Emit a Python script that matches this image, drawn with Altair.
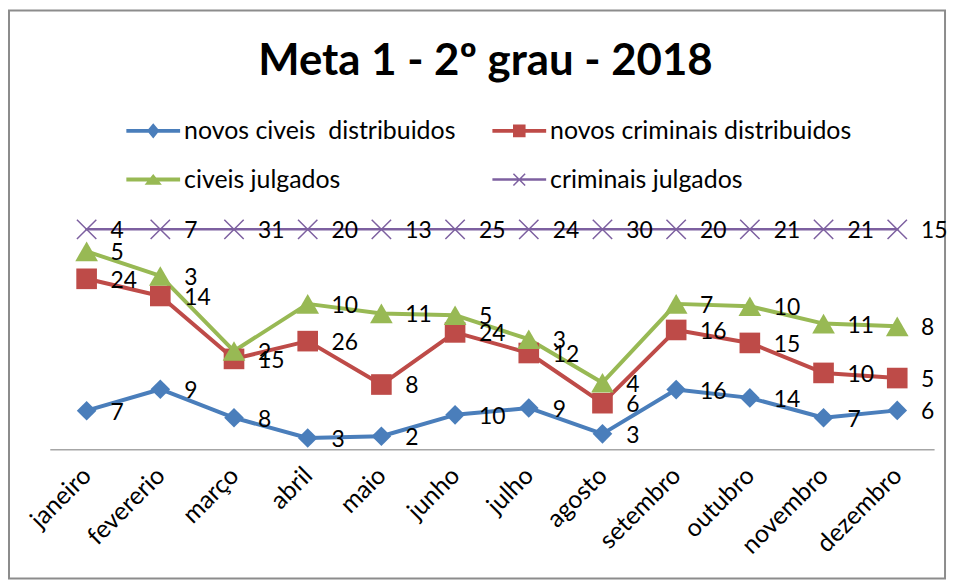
import altair as alt
import pandas as pd

meses = ["janeiro", "fevererio", "março", "abril", "maio", "junho", "julho",
         "agosto", "setembro", "outubro", "novembro", "dezembro"]
series = ["novos civeis\u00a0 distribuidos", "novos criminais distribuidos",
          "civeis julgados", "criminais julgados"]
novos_civeis = [7, 9, 8, 3, 2, 10, 9, 3, 16, 14, 7, 6]
novos_criminais = [24, 14, 15, 26, 8, 24, 12, 6, 16, 15, 10, 5]
civeis_julgados = [5, 3, 2, 10, 11, 5, 3, 4, 7, 10, 11, 8]
criminais_julgados = [4, 7, 31, 20, 13, 25, 24, 30, 20, 21, 21, 15]
cores = ["#4A7EBB", "#BE4B48", "#98B954", "#7D60A0"]
larguras = [4, 4, 4, 2.5]
titulo = ["Meta 1 - 2º grau - 2018"]

valores = [novos_civeis, novos_criminais, civeis_julgados, criminais_julgados]
rows = []
for si, (s, vals) in enumerate(zip(series, valores)):
    for mi, (m, v) in enumerate(zip(meses, vals)):
        rows.append({"mes": m, "idx": mi, "serie": s, "ordem": si, "valor": v})
df = pd.DataFrame(rows)

FONT = "Lato"

base = alt.Chart(df).transform_stack(
    stack="valor", groupby=["mes"], as_=["y0", "y1"], offset="normalize",
    sort=[alt.SortField("ordem", order="ascending")]
)

x_enc = alt.X("mes:N", sort=meses,
              scale=alt.Scale(type="point", padding=0.5),
              axis=alt.Axis(title=None, labelAngle=-45, labelAlign="right",
                            labelBaseline="middle", labelPadding=22, ticks=False,
                            labelFont=FONT, labelFontSize=25, labelColor="#000000",
                            domainColor="#A6A6A6", domainWidth=1.5, grid=False))
y_enc = alt.Y("y1:Q", scale=alt.Scale(domain=[0, 1], nice=False, zero=False),
              axis=None)

line_layers = [
    base.mark_line(color=c, strokeWidth=w, strokeJoin="round", strokeCap="round").encode(
        x=x_enc, y=y_enc, order=alt.Order("idx:Q")).transform_filter(alt.datum.ordem == i)
    for i, (c, w) in enumerate(zip(cores, larguras))
]

xpath = "M-1,-1L1,1M-1,1L1,-1"
pts_d = base.mark_point(filled=True, shape="diamond", size=390, opacity=1, color=cores[0]).encode(
    x=x_enc, y=y_enc).transform_filter(alt.datum.ordem == 0)
pts_s = base.mark_point(filled=True, shape="square", size=430, opacity=1, color=cores[1]).encode(
    x=x_enc, y=y_enc).transform_filter(alt.datum.ordem == 1)
pts_t = base.mark_point(filled=True, shape="triangle-up", size=520, opacity=1, color=cores[2]).encode(
    x=x_enc, y=y_enc).transform_filter(alt.datum.ordem == 2)
pts_x = base.mark_point(filled=False, shape=xpath, size=380, opacity=1, color=cores[3],
                        strokeWidth=1.5).encode(
    x=x_enc, y=y_enc).transform_filter(alt.datum.ordem == 3)

labels = base.mark_text(align="left", baseline="middle", dx=24, dy=2,
                        font=FONT, fontSize=23, color="#000000").encode(
    x=x_enc, y=y_enc, text="valor:Q")

# legend symbols: line + marker (all filled shapes)
ln = "M-1.93,-0.143L1.93,-0.143L1.93,0.143L-1.93,0.143Z"
xmark = ("M-0.382,-0.458L0.458,0.382L0.382,0.458L-0.458,-0.382Z"
         "M-0.382,0.458L-0.458,0.382L0.382,-0.458L0.458,-0.382Z")
leg_shapes = [
    ln + "M0,-0.55L0.45,0L0,0.55L-0.45,0Z",
    ln + "M-0.45,-0.45L0.45,-0.45L0.45,0.45L-0.45,0.45Z",
    ln + "M0,-0.4L0.62,0.36L-0.62,0.36Z",
    "M-1.93,-0.09L1.93,-0.09L1.93,0.09L-1.93,0.09Z" + xmark,
]

leg = alt.Legend(title=None, orient="none", legendX=90, legendY=-113, columns=2,
                 direction="horizontal",
                 columnPadding=36, rowPadding=22, symbolSize=784, symbolStrokeWidth=0,
                 symbolOpacity=1, labelLimit=400,
                 labelOffset=17, labelFont=FONT, labelFontSize=25, labelColor="#000000",
                 padding=0)

legend_layer = base.mark_point(filled=True, size=784, opacity=1, clip=True).encode(
    x=x_enc,
    y=alt.value(-2000),
    color=alt.Color("serie:N", scale=alt.Scale(domain=series, range=cores), legend=leg),
    shape=alt.Shape("serie:N", scale=alt.Scale(domain=series, range=leg_shapes), legend=leg),
)

frame = alt.Chart(pd.DataFrame({"a": [0]})).mark_rect(
    filled=False, stroke="#8C8C8C", strokeWidth=2, clip=False).encode(
    x=alt.value(-41), x2=alt.value(900), y=alt.value(-220), y2=alt.value(351))

title_layer = alt.Chart(pd.DataFrame({"t": titulo})).mark_text(
    font=FONT, fontSize=44, fontWeight="bold", color="#000000", align="center",
    baseline="alphabetic").encode(
    text="t:N", x=alt.value(438), y=alt.value(-155))

chart = alt.layer(frame, title_layer, *line_layers, pts_d, pts_s, pts_t, pts_x, labels,
                  legend_layer).properties(
    width=889, height=221,
    autosize=alt.AutoSizeParams(type="none"),
    padding={"left": 42, "top": 221, "right": 16, "bottom": 132},
    background="#FFFFFF",
).configure_view(stroke=None)

chart.save("out.html", embed_options={"renderer": "svg", "actions": False})
